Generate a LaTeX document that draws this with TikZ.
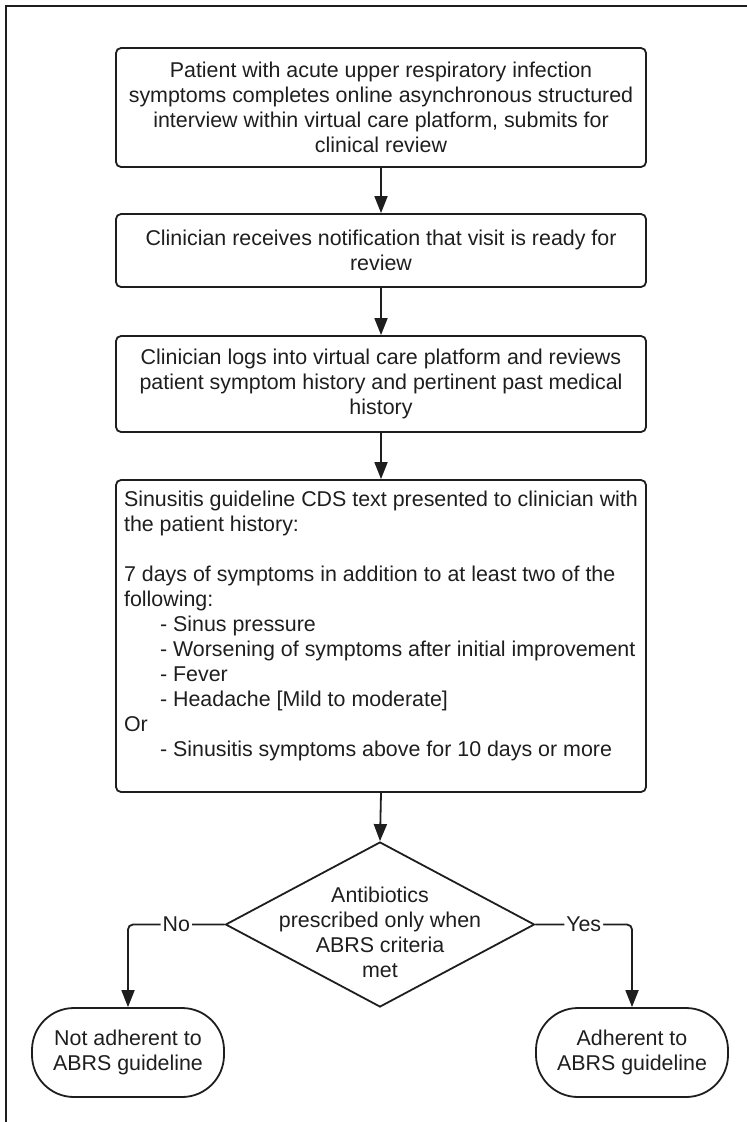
\documentclass[tikz,border=0pt]{standalone}
\usepackage{fontspec}
\setmainfont{Liberation Sans}
\usetikzlibrary{arrows.meta,shapes.geometric}
\definecolor{ink}{HTML}{1E1E1E}
\begin{document}
\begin{tikzpicture}[x=1pt,y=-1pt,
  font=\fontsize{21.4pt}{25pt}\selectfont,
  stepbox/.style={draw=ink, text=ink, line width=1.8pt, rounded corners=5pt,
    minimum width=530pt, inner sep=0pt, align=center},
  textbox/.style={draw=ink, text=ink, line width=1.8pt, rounded corners=5pt,
    minimum width=530pt, inner sep=0pt, align=left},
  decision/.style={draw=ink, line width=1.8pt, shape=diamond,
    minimum width=309pt, minimum height=165pt, inner sep=0pt},
  termbox/.style={draw=ink, text=ink, line width=1.8pt, rounded corners=42pt,
    minimum width=192pt, minimum height=89pt, inner sep=0pt, align=center},
  arr/.style={draw=ink, line width=1.8pt, -{Triangle[length=17pt,width=13pt]}},
  branch/.style={arr, rounded corners=5pt},
  lab/.style={fill=white, text=ink, inner sep=2pt},
  frameline/.style={draw=ink, line width=1.3pt}]
\useasboundingbox (0,0) rectangle (747,1122);
\draw[frameline] (747,6) -- (6,6) -- (6,1122);

\node[stepbox, minimum height=119pt] (b1) at (381,107.5)
  {Patient with acute upper respiratory infection\\
   symptoms completes online asynchronous structured\\
   interview within virtual care platform, submits for\\
   clinical review};
\node[stepbox, minimum height=73pt] (b2) at (381,250.5)
  {Clinician receives notification that visit is ready for\\review};
\node[stepbox, minimum height=96pt] (b3) at (381,384)
  {Clinician logs into virtual care platform and reviews\\
   patient symptom history and pertinent past medical\\history};
\node[textbox, minimum height=312pt] (b4) at (381,636)
  {Sinusitis guideline CDS text presented to clinician with\\
   the patient history:\\
   \mbox{}\\
   7 days of symptoms in addition to at least two of the\\
   following:\\
   \hspace*{36pt}- Sinus pressure\\
   \hspace*{36pt}- Worsening of symptoms after initial improvement\\
   \hspace*{36pt}- Fever\\
   \hspace*{36pt}- Headache [Mild to moderate]\\
   Or\\
   \hspace*{36pt}- Sinusitis symptoms above for 10 days or more\\
   \mbox{}};
\node[decision] (d) at (380,924.5) {};
\node[text=ink, align=center, inner sep=0pt] (dt) at (380,932)
  {Antibiotics\\prescribed only when\\ABRS criteria\\met};
\node[termbox] (t1) at (128,1052.5) {Not adherent to\\ABRS guideline};
\node[termbox] (t2) at (632,1052.5) {Adherent to\\ABRS guideline};

\draw[arr] (b1.south) -- (b2.north);
\draw[arr] (b2.south) -- (b3.north);
\draw[arr] (b3.south) -- (b4.north);
\draw[arr] (b4.south) -- (d.north);
\draw[branch] (d.west) -| node[lab, pos=0.25] (no) {No} (t1.north);
\draw[branch] (d.east) -| node[lab, pos=0.25] (yes) {Yes} (t2.north);
\end{tikzpicture}
\end{document}
